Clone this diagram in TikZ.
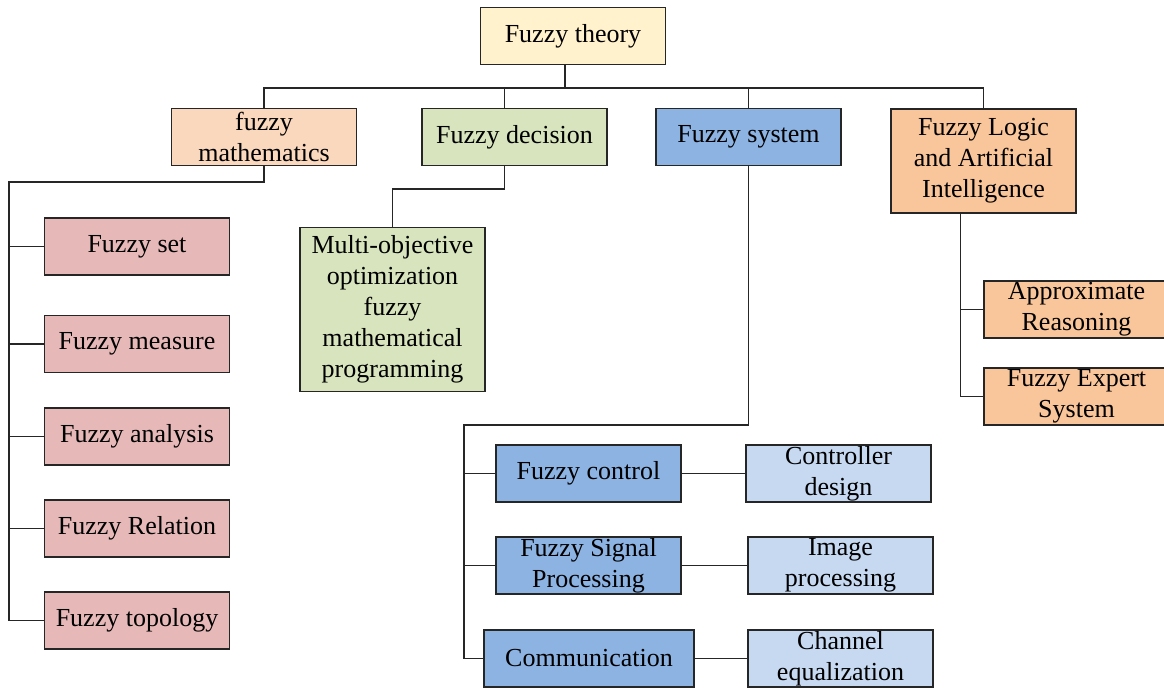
\documentclass[tikz,border=0pt]{standalone}
\usepackage{fontspec}
\setmainfont{Liberation Serif}
\usepackage{xcolor}
\usepackage{tikz}
\usetikzlibrary{positioning}

\definecolor{rootfill}{HTML}{FFF2CC}
\definecolor{mathfill}{HTML}{FAD8BD}
\definecolor{decfill}{HTML}{D7E4BD}
\definecolor{sysfill}{HTML}{8DB3E2}
\definecolor{aifill}{HTML}{F9C59A}
\definecolor{setfill}{HTML}{E6B9B8}
\definecolor{subfill}{HTML}{C6D9F1}

\begin{document}
\begin{tikzpicture}[x=0.5pt,y=-0.5pt,
box/.style={draw=black!85,rectangle,line width=0.9pt,minimum width=92.5pt,minimum height=28.5pt,inner sep=0.5pt,align=center,font=\fontsize{13}{15.5}\selectfont},
link/.style={draw=black!85,line width=0.9pt}]
\useasboundingbox (0,0) rectangle (1164,688);
\clip (0,0) rectangle (1164,688);

\node (theory) [box,fill=rootfill] at (573,36) {Fuzzy theory};

\node (fmath) [box,fill=mathfill] at (264,137) {fuzzy\\mathematics};
\node (fdec) [box,fill=decfill] at (514.5,137) {Fuzzy decision};
\node (fsys) [box,fill=sysfill] at (748.5,137) {Fuzzy system};
\node (flai) [box,fill=aifill,minimum height=52pt] at (983.5,161) {Fuzzy Logic\\and Artificial\\Intelligence};

\node (fset) [box,fill=setfill] at (137,246.5) {Fuzzy set};
\node (fmeas) [box,fill=setfill] at (137,344) {Fuzzy measure};
\node (fana) [box,fill=setfill] at (137,436.5) {Fuzzy analysis};
\node (frel) [box,fill=setfill] at (137,528.5) {Fuzzy Relation};
\node (ftop) [box,fill=setfill] at (137,620.5) {Fuzzy topology};

\node (multi) [box,fill=decfill,minimum height=82pt] at (392.5,309.5) {Multi-objective\\optimization\\fuzzy\\mathematical\\programming};

\node (fctl) [box,fill=sysfill] at (588.5,473.5) {Fuzzy control};
\node (fsig) [box,fill=sysfill] at (588.5,565.5) {Fuzzy Signal\\Processing};
\node (comm) [box,fill=sysfill,minimum width=105pt] at (589,658.5) {Communication};
\node (cdes) [box,fill=subfill] at (838.5,473.5) {Controller\\design};
\node (ipro) [box,fill=subfill] at (840.5,565.5) {Image\\processing};
\node (cheq) [box,fill=subfill] at (840.5,658.5) {Channel\\equalization};

\node (appr) [box,fill=aifill] at (1076.5,309.5) {Approximate\\Reasoning};
\node (fexp) [box,fill=aifill] at (1076.5,396.5) {Fuzzy Expert\\System};

\coordinate (mbus) at (9,182);
\coordinate (sbus) at (464,425);
\coordinate (aistem) at ([xshift=-11.5pt]flai.south);

\draw [link] ([xshift=-4pt]theory.south) -- ++(0,22.5) coordinate (topbus);
\draw [link] (fmath.north) |- (topbus) -| (flai.north);
\draw [link] ([xshift=-5pt]fdec.north) -- ([xshift=-5pt]fdec.north |- topbus);
\draw [link] (fsys.north) -- (fsys.north |- topbus);

\draw [link] (fmath.south) |- (mbus) |- (ftop.west);
\foreach \n in {fset,fmeas,fana,frel}
  \draw [link] (\n.west) -- (\n.west -| mbus);

\draw [link] ([xshift=-5pt]fdec.south) -- ++(0,23) -| (multi.north);

\draw [link] (fsys.south) |- (sbus) |- (comm.west);
\foreach \n in {fctl,fsig}
  \draw [link] (\n.west) -- (\n.west -| sbus);
\draw [link] (fctl) -- (cdes);
\draw [link] (fsig) -- (ipro);
\draw [link] (comm) -- (cheq);

\draw [link] (aistem) |- (fexp.west);
\draw [link] (appr.west) -- (appr.west -| aistem);
\end{tikzpicture}
\end{document}
